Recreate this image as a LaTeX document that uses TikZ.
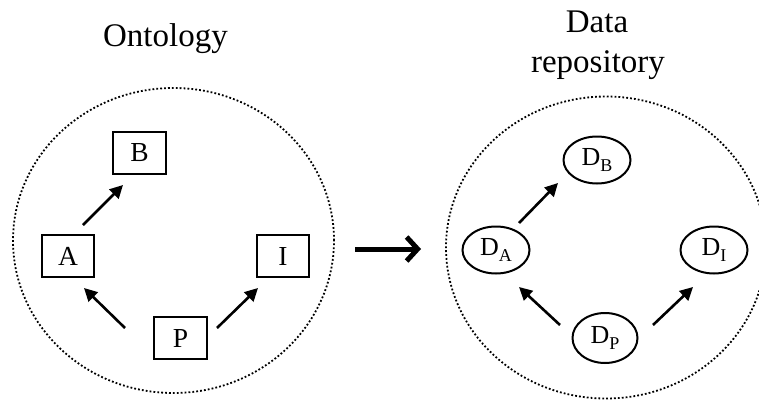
\documentclass[tikz,border=0pt]{standalone}
\usepackage{fontspec}
\setmainfont{Liberation Serif}
\usetikzlibrary{arrows.meta,shapes.geometric,calc}

% letter D with a lowered index letter
\newcommand{\dset}[1]{D\raisebox{-6.5pt}{\fontsize{18}{18}\selectfont #1}}

\tikzset{
  title/.style={anchor=base, inner sep=0pt, font=\fontsize{33}{39}\selectfont},
  concept/.style={draw, line width=2pt, rectangle, minimum width=52.5pt, minimum height=41.5pt,
    inner sep=0pt, font=\fontsize{27.5}{30}\selectfont},
  dataset/.style={draw, line width=2pt, ellipse, minimum width=67pt, minimum height=47pt,
    inner sep=0pt, font=\fontsize{26}{29}\selectfont},
  region/.style={line width=1.8pt, dash pattern=on 1.8pt off 2.1pt},
  link/.style={line width=2.6pt, -{Triangle[length=13pt,width=13pt]}},
  mapping/.style={line width=5pt, -{Straight Barb[length=11pt,width=24pt]}},
}

\begin{document}
\begin{tikzpicture}[x=1pt,y=1pt]
  \useasboundingbox (0,0) rectangle (759,400);

  % titles
  \node[title] (ttlO) at (165.5,353.3) {Ontology};
  \node[title] (ttlD1) at (597,367) {Data};
  \node[title] (ttlD2) at (598,328) {repository};

  % dotted regions
  \draw[region] (173.5,159.5) ellipse [x radius=160.5, y radius=152.5];
  \draw[region] (606,152.5) ellipse [x radius=160, y radius=151];

  % ontology concepts
  \node[concept] (B) at (139.5,247) {B};
  \node[concept] (A) at (68,144) {A};
  \node[concept] (I) at (283,144) {I};
  \node[concept] (P) at (180.5,62) {P};

  \draw[link] ($(A)+(15,31)$) -- ($(B)+(-16.5,-32)$);
  \draw[link] ($(P)+(-55.5,10)$) -- ($(A)+(16,-32)$);
  \draw[link] ($(P)+(36.5,10)$) -- ($(I)+(-25,-32)$);

  % data sets
  \node[dataset] (DB) at (597,240) {\dset{B}};
  \node[dataset] (DA) at (496,150) {\dset{A}};
  \node[dataset] (DI) at (714,150) {\dset{I}};
  \node[dataset, minimum width=65pt, minimum height=50pt] (DP) at (605,62) {\dset{P}};

  \draw[link] ($(DA)+(23,27)$) -- ($(DB)+(-39,-23)$);
  \draw[link] ($(DP)+(-45,13)$) -- ($(DA)+(23,-37)$);
  \draw[link] ($(DP)+(48,13)$) -- ($(DI)+(-21,-37)$);

  % mapping from ontology to repository
  \coordinate (mapS) at (355,151);
  \coordinate (mapE) at (421,151);
  \draw[mapping] (mapS) -- (mapE);
\end{tikzpicture}
\end{document}
